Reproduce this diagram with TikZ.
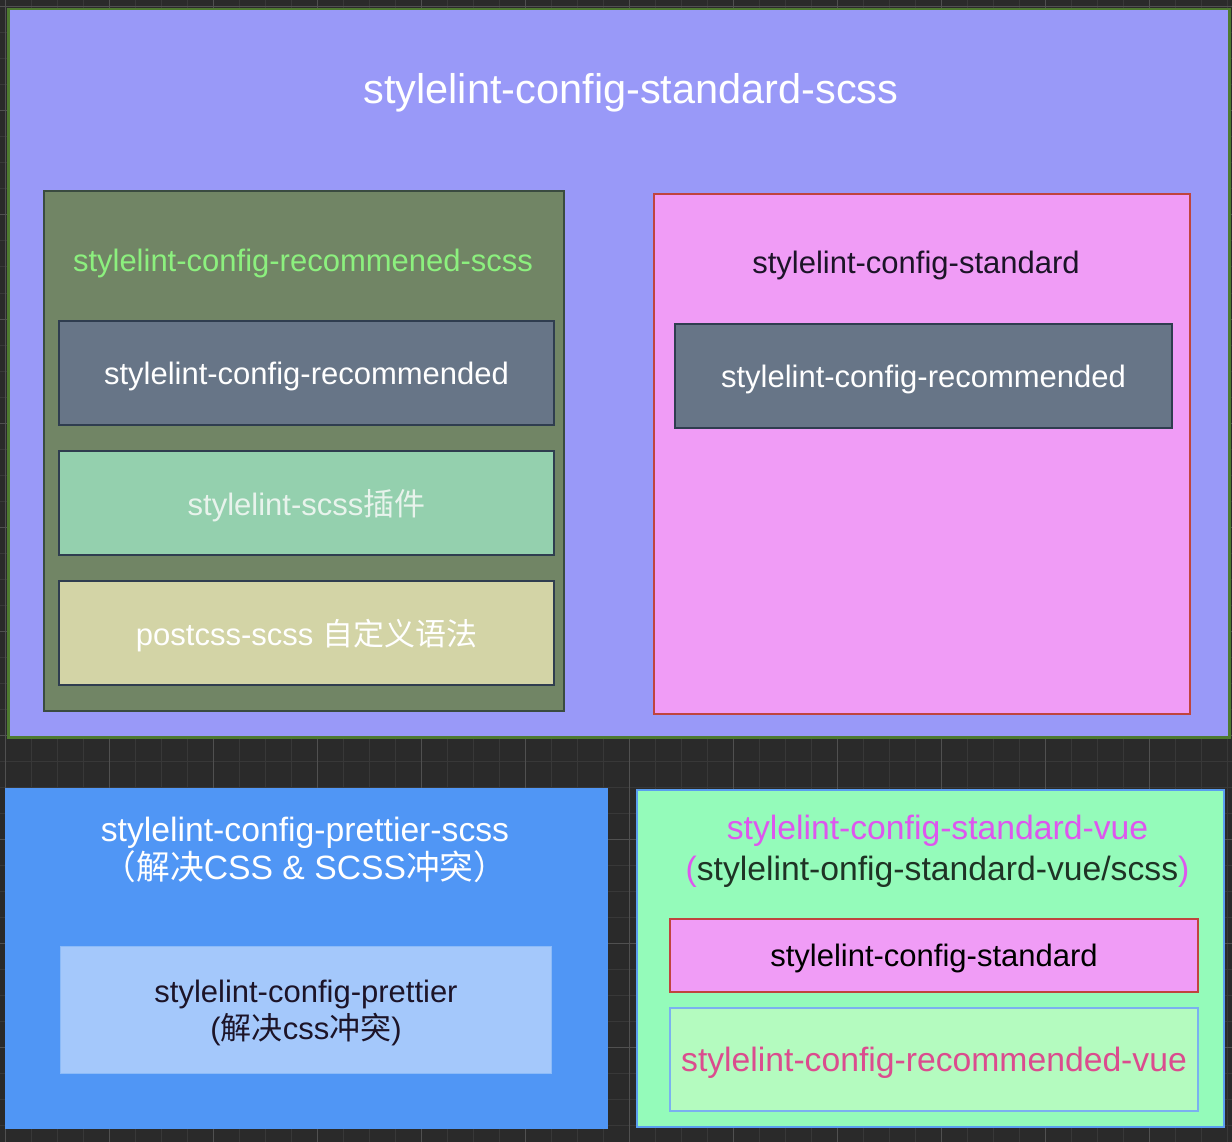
\documentclass[tikz,border=0pt]{standalone}
\usepackage{fontspec}
\setmainfont{Liberation Sans}
\newfontfamily\cjk{Noto Sans CJK SC}
\definecolor{bg}{HTML}{2A2A2A}
\definecolor{gridminor}{HTML}{383838}
\definecolor{gridmajor}{HTML}{505050}
\definecolor{outerfill}{HTML}{9999F8}
\definecolor{outerborder}{HTML}{4E7A30}
\definecolor{olivefill}{HTML}{718565}
\definecolor{oliveborder}{HTML}{3A4B40}
\definecolor{greentitle}{HTML}{8CF07E}
\definecolor{slatefill}{HTML}{677587}
\definecolor{slateborder}{HTML}{2F3D4F}
\definecolor{mintfill}{HTML}{94D0AE}
\definecolor{minttext}{HTML}{E8F3EC}
\definecolor{beigefill}{HTML}{D3D4A6}
\definecolor{pinkfill}{HTML}{F09CF6}
\definecolor{pinkborder}{HTML}{C0443E}
\definecolor{darktext}{HTML}{1C1428}
\definecolor{bluefill}{HTML}{5096F5}
\definecolor{lightblue}{HTML}{A4C8FB}
\definecolor{lightblueborder}{HTML}{8CBBF8}
\definecolor{vuefill}{HTML}{94FBBA}
\definecolor{vueborder}{HTML}{5A9EF0}
\definecolor{vuemag}{HTML}{DE56EE}
\definecolor{vuedark}{HTML}{1F3325}
\definecolor{recvuefill}{HTML}{B4FBBF}
\definecolor{recvueborder}{HTML}{7AB1F0}
\definecolor{recvuetext}{HTML}{DB4C8E}
\tikzset{
  frame/.style={draw, line width=2pt, inner sep=0pt, anchor=north west},
  tsmall/.style={font=\fontsize{31}{37}\selectfont, inner sep=0pt, align=center},
  tmid/.style={font=\fontsize{33.7}{38.5}\selectfont, inner sep=0pt, align=center},
  tbig/.style={font=\fontsize{41.5}{48}\selectfont, inner sep=0pt},
  minorline/.style={draw=gridminor, line width=1pt},
  majorline/.style={draw=gridmajor, line width=1pt},
}
\begin{document}
\begin{tikzpicture}[x=1pt,y=-1pt]
\useasboundingbox (0,0) rectangle (1232,1142);
% background grid
\begin{scope}
\clip (0,0) rectangle (1232,1142);
\fill[bg] (0,0) rectangle (1232,1142);
\foreach \x in {5,31,...,1231} \draw[minorline] (\x,0) -- (\x,1142);
\foreach \y in {7,33,...,1141} \draw[minorline] (0,\y) -- (1232,\y);
\foreach \x in {5,109,...,1231} \draw[majorline] (\x,0) -- (\x,1142);
\foreach \y in {7,111,...,1141} \draw[majorline] (0,\y) -- (1232,\y);
\end{scope}

% outer scss box
\node[frame, fill=outerfill, draw=outerborder, line width=2.5pt, minimum width=1221pt, minimum height=728pt] (outer) at (7,8) {};
\node[tbig, text=white] (outertitle) at (631,93) {stylelint-config-standard-scss};

% recommended-scss box
\node[frame, fill=olivefill, draw=oliveborder, minimum width=520pt, minimum height=520pt] (recscss) at (43,190) {};
\node[tsmall, text=greentitle] (recscsstitle) at (303,263) {stylelint-config-recommened-scss};
\node[frame, fill=slatefill, draw=slateborder, minimum width=495pt, minimum height=104pt] (rec1) at (58,320) {};
\node[tsmall, text=white] (rec1text) at ([yshift=-3pt]rec1.center) {stylelint-config-recommended};
\node[frame, fill=mintfill, draw=slateborder, minimum width=495pt, minimum height=104pt] (scssplugin) at (58,450) {};
\node[tsmall, text=minttext] (scssplugintext) at ([yshift=-3pt]scssplugin.center) {stylelint-scss{\cjk 插件}};
\node[frame, fill=beigefill, draw=slateborder, minimum width=495pt, minimum height=104pt] (postcss) at (58,580) {};
\node[tsmall, text=white] (postcsstext) at ([yshift=-3pt]postcss.center) {postcss-scss {\cjk 自定义语法}};

% standard box
\node[frame, fill=pinkfill, draw=pinkborder, minimum width=536pt, minimum height=520pt] (std) at (653,193) {};
\node[tsmall, text=darktext] (stdtitle) at (916,265) {stylelint-config-standard};
\node[frame, fill=slatefill, draw=slateborder, minimum width=497pt, minimum height=104pt] (rec2) at (674,323) {};
\node[tsmall, text=white] (rec2text) at ([yshift=-3pt]rec2.center) {stylelint-config-recommended};

% prettier box
\node[frame, fill=bluefill, draw=bluefill, minimum width=601pt, minimum height=339pt] (prettierscss) at (5,788) {};
\node[tmid, text=white, font=\fontsize{33.7}{37.5}\selectfont] (prettiertitle) at (305,850) {stylelint-config-prettier-scss\\{\cjk （解决}CSS \& SCSS{\cjk 冲突）}};
\node[frame, fill=lightblue, draw=lightblueborder, line width=1pt, minimum width=491pt, minimum height=127pt] (prettier) at (60,946) {};
\node[tsmall, text=darktext] (prettiertext) at ([yshift=-3pt]prettier.center) {stylelint-config-prettier\\({\cjk 解决}css{\cjk 冲突})};

% vue box
\node[frame, fill=vuefill, draw=vueborder, minimum width=587pt, minimum height=337pt] (vue) at (636,789) {};
\node[tmid, text=vuedark, font=\fontsize{33.7}{40.5}\selectfont] (vuetitle) at (937.5,851.5) {\textcolor{vuemag}{stylelint-config-standard-vue}\\\textcolor{vuemag}{(}stylelint-onfig-standard-vue/scss\textcolor{vuemag}{)}};
\node[frame, fill=pinkfill, draw=pinkborder, minimum width=528pt, minimum height=73pt] (std2) at (669,918) {};
\node[tsmall, text=black] (std2text) at ([yshift=-3pt]std2.center) {stylelint-config-standard};
\node[frame, fill=recvuefill, draw=recvueborder, minimum width=528pt, minimum height=103pt] (recvue) at (669,1007) {};
\node[tmid, text=recvuetext] (recvuetext) at ([yshift=-3pt]recvue.center) {stylelint-config-recommended-vue};
\end{tikzpicture}
\end{document}
